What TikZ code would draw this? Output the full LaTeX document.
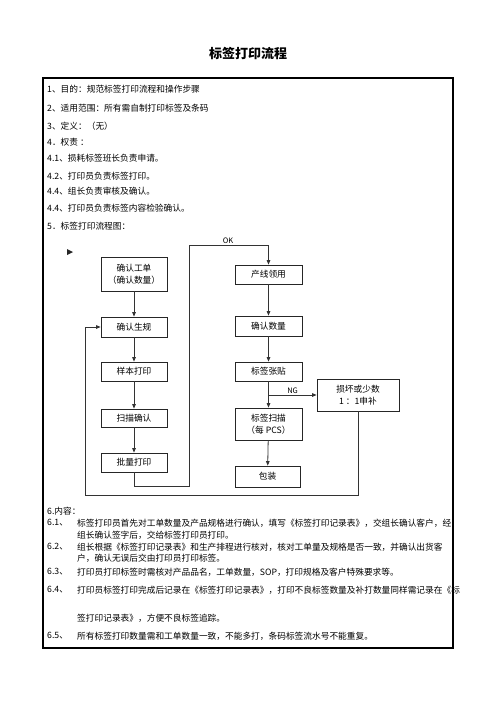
\documentclass[tikz,border=0pt]{standalone}
\usepackage{fontspec}
\setmainfont{Noto Sans CJK SC}
\usetikzlibrary{arrows.meta}

\begin{document}
\begin{tikzpicture}[x=1pt, y=-1pt,
      box/.style={draw=black!85, line width=0.8pt, font=\fontsize{8.7}{12}\selectfont,
        align=center, inner sep=1pt},
      ln/.style={line width=0.8pt, draw=black!80},
      arr/.style={-{Triangle[length=4.5pt,width=3.6pt]}, line width=0.8pt, draw=black!80},
      txt/.style={anchor=west, inner sep=0pt, font=\fontsize{8.7}{10}\selectfont},
      etq/.style={font=\fontsize{7.5}{8}\selectfont, inner sep=1pt}
    ]
    \useasboundingbox (0,0) rectangle (496,702);
    \node[font=\fontsize{13}{15}\selectfont\bfseries] (title) at (248,53) {标签打印流程};
    \draw[line width=1.1pt] (43,78) rectangle (453,648);
    \foreach \yy/\tx [count=\i] in {89/{1、目的：规范标签打印流程和操作步骤},
        108/{2、适用范围：所有需自制打印标签及条码}, 126/{3、定义：（无）},
        142/{4．权责 ：}, 158/{4.1、损耗标签班长负责申请。}, 176/{4.2、打印员负责标签打印。},
        191/{4.4、组长负责审核及确认。}, 208/{4.4、打印员负责标签内容检验确认。},
        226/{5．标签打印流程图：}} {
      \node[txt] (l\i) at (47,\yy) {\tx}; }
    \fill[black!85] (67,249) -- (73,252) -- (67,255) -- cycle;
    % flow
    \node[box, minimum width=66pt, minimum height=34pt] (gd) at (134,274) {确认工单\\（确认数量）};
    \node[box, minimum width=66pt, minimum height=20pt] (sg) at (134,327) {确认生规};
    \node[box, minimum width=66pt, minimum height=19pt] (yb) at (134,371.5) {样本打印};
    \node[box, minimum width=66pt, minimum height=18pt] (sm) at (134,418) {扫描确认};
    \node[box, minimum width=66pt, minimum height=19pt] (pl) at (134,462.5) {批量打印};
    \node[box, minimum width=67pt, minimum height=19pt] (cx) at (268.5,274.5) {产线领用};
    \node[box, minimum width=67pt, minimum height=20pt] (sl) at (268.5,326) {确认数量};
    \node[box, minimum width=67pt, minimum height=19pt] (zt) at (268.5,371.5) {标签张贴};
    \node[box, minimum width=67pt, minimum height=32pt] (ss) at (268.5,424) {标签扫描\\（每 PCS）};
    \node[box, minimum width=65pt, minimum height=21pt] (bz) at (267.5,476.5) {包装};
    \node[box, minimum width=82pt, minimum height=32pt] (sh) at (358,395) {损坏或少数\\1 ：1申补};
    \coordinate (ok) at (189,245);
    \coordinate (fb) at (85,495);
    \coordinate (ng) at (zt.south |- sh.west);
    \draw[arr] (gd) -- (sg);
    \draw[arr] (sg) -- (yb);
    \draw[arr] (yb) -- (sm);
    \draw[arr] (sm) -- (pl);
    \draw[arr] (cx) -- (sl);
    \draw[arr] (sl) -- (zt);
    \draw[arr] (zt) -- (ss);
    \draw[arr] (ss) -- (bz);
    \draw[arr] (pl.south) -- ++(0,14) -| (ok) -| (cx.north);
    \node[etq, above] (oklbl) at (228,245) {OK};
    \draw[arr] (ng) -- node[etq, above] {NG} (sh.west);
    \draw[arr] (sh.south) |- (fb) |- (sg.west);
    % content
    \node[txt] (c0) at (47,511) {6.内容：};
    \foreach \yy/\nr/\tx [count=\i] in {
        523/{6.1、}/{标签打印员首先对工单数量及产品规格进行确认，填写《标签打印记录表》，交组长确认客户，经},
        535/{}/{组长确认签字后，交给标签打印员打印。},
        547/{6.2、}/{组长根据《标签打印记录表》和生产排程进行核对，核对工单量及规格是否一致，并确认出货客},
        558/{}/{户，确认无误后交由打印员打印标签。},
        572/{6.3、}/{打印员打印标签时需核对产品品名，工单数量，SOP，打印规格及客户特殊要求等。},
        590/{6.4、}/{打印员标签打印完成后记录在《标签打印记录表》，打印不良标签数量及补打数量同样需记录在《标},
        618/{}/{签打印记录表》，方便不良标签追踪。},
        636/{6.5、}/{所有标签打印数量需和工单数量一致，不能多打，条码标签流水号不能重复。}} {
      \node[txt] (n\i) at (47,\yy) {\nr};
      \node[txt] (c\i) at (77,\yy) {\tx}; }
  \end{tikzpicture}
\end{document}
